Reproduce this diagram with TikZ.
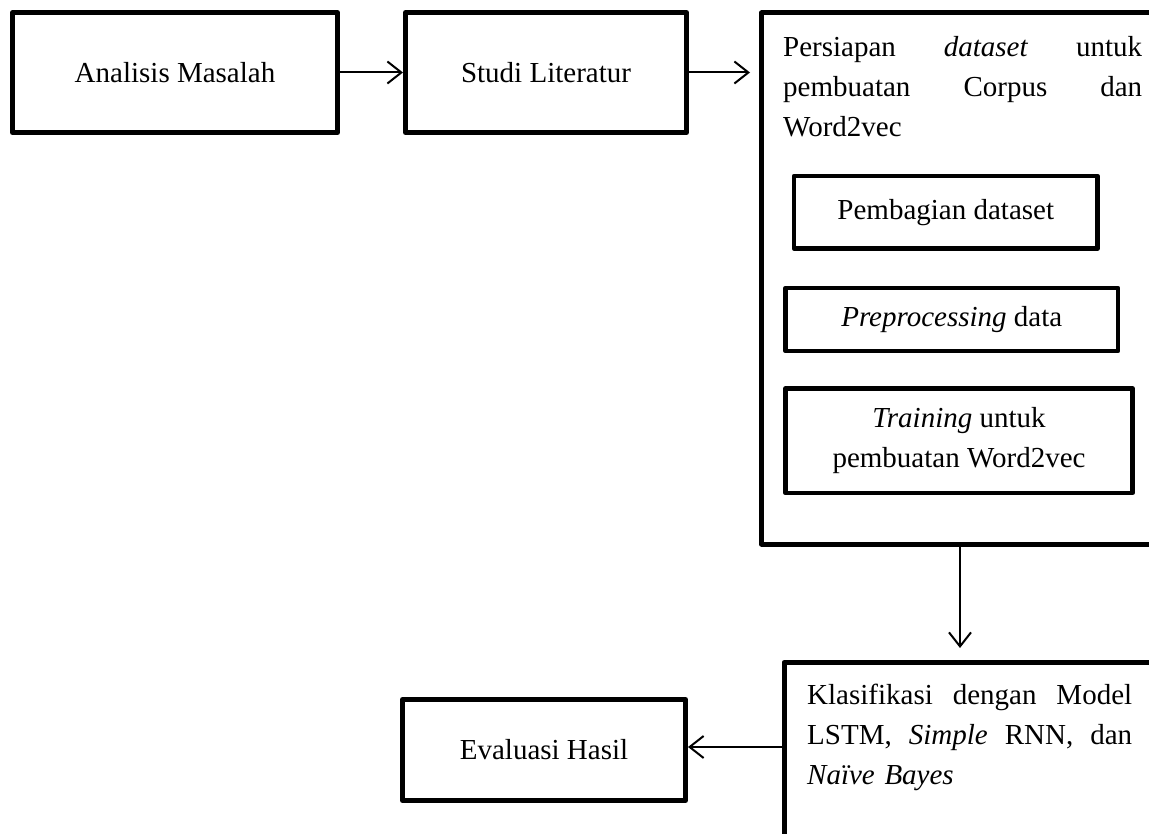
\documentclass[tikz,border=0pt]{standalone}
\usepackage{fontspec}
\setmainfont{Liberation Serif}
\usetikzlibrary{arrows.meta}
\begin{document}
\begin{tikzpicture}[x=1pt,y=-1pt,
  box/.style={draw, line width=5pt, line join=round, inner sep=0pt, font=\fontsize{29}{40}\selectfont},
  subbox/.style={box, line width=4.5pt},
  txt/.style={inner sep=0pt, font=\fontsize{29}{40}\selectfont},
  conn/.style={line width=2pt, -{Straight Barb[length=14pt,width=22pt]}}]
\useasboundingbox (0,0) rectangle (1149,834);
\fill[white] (0,0) rectangle (1149,834);
\clip (0,0) rectangle (1149,834);

\node[box, minimum width=325pt, minimum height=120pt] (A) at (175,72.5) {Analisis Masalah};
\node[box, minimum width=281pt, minimum height=120pt] (B) at (546,72.5) {Studi Literatur};
\node[box, minimum width=418.5pt, minimum height=531pt] (C) at (970.75,278.5) {};
\node[txt, anchor=base west, text width=359pt] (Ct) at (783,57)
  {Persiapan\hfill\textit{dataset}\hfill untuk\\pembuatan\hfill Corpus\hfill dan\\Word2vec};

\node[subbox, minimum width=303.5pt, minimum height=72.5pt] (P1) at (945.75,212.25) {Pembagian dataset};
\node[subbox, minimum width=332.5pt, minimum height=63pt] (P2) at (951.75,319.5) {\textit{Preprocessing} data};
\node[subbox, minimum width=347pt, minimum height=104.3pt, align=center] (P3) at (959,440.8)
  {\textit{Training} untuk\\pembuatan Word2vec};

\node[box, minimum width=396pt, minimum height=240pt] (D) at (982,782.5) {};
\node[txt, anchor=base west, text width=325pt] (Dt) at (807,704)
  {Klasifikasi\hfill dengan\hfill Model\\LSTM,\hfill\textit{Simple}\hfill RNN,\hfill dan\\\textit{Naïve Bayes}};

\node[box, minimum width=283pt, minimum height=101pt] (E) at (544,750) {Evaluasi Hasil};

\coordinate (cd) at (960,544);
\coordinate (de) at (784,747);

\draw[conn] (A) -- (B);
\draw[conn, shorten >=9pt] (B.east) -- (B.east -| C.west);
\draw[conn, shorten >=12pt] (cd |- C.south) -- (cd |- D.north);
\draw[conn] (de -| D.west) -- (de -| E.east);
\end{tikzpicture}
\end{document}
